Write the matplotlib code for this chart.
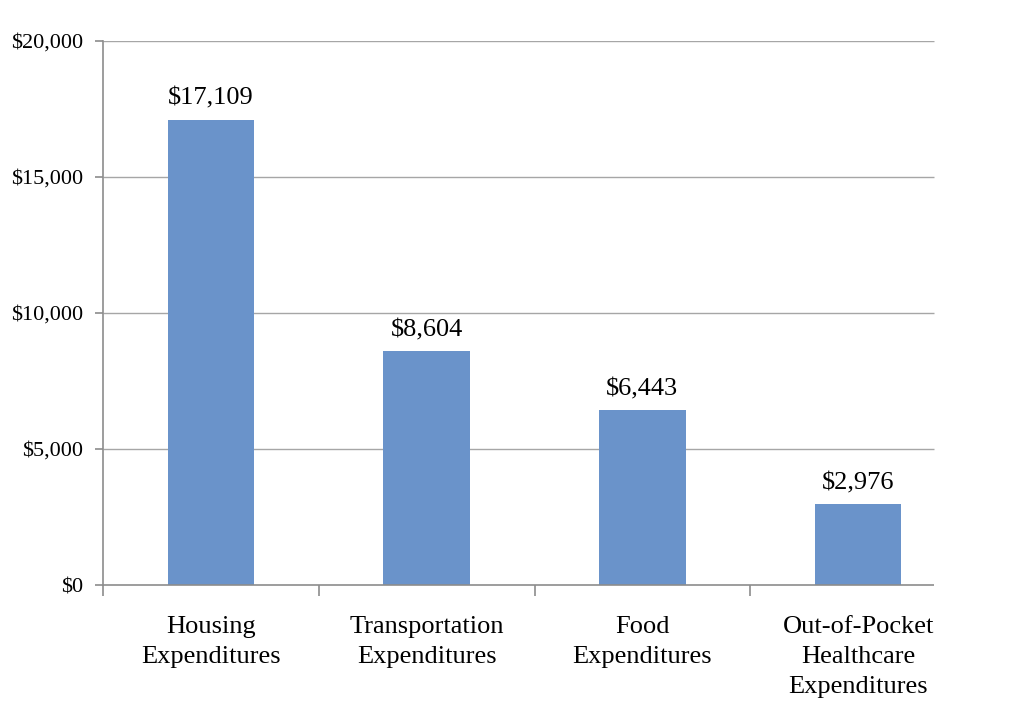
import matplotlib.pyplot as plt
import numpy as np

# data
categories = ['Housing\nExpenditures', 'Transportation\nExpenditures',
              'Food\nExpenditures', 'Out-of-Pocket\nHealthcare\nExpenditures']
values = [17109, 8604, 6443, 2976]
yticks = [0, 5000, 10000, 15000, 20000]

plt.rcParams['font.family'] = ['Liberation Serif', 'DejaVu Serif']

fig = plt.figure(figsize=(10.31, 7.17), dpi=100)
ax = fig.add_axes([103/1031, 1-585/717, (966-103)/1031, (585-41)/717])

x = np.arange(len(categories))
bars = ax.bar(x, values, width=0.4, color='#6A93CA', zorder=3)

ax.set_xlim(-0.5, len(categories)-0.5)
ax.set_ylim(0, 20000)

# gridlines stop short of the right edge, as in the original
x_end = -0.5 + (934-103)/((966-103)/4)
ax.hlines(yticks[1:], -0.5, x_end, color='#A6A6A6', lw=1, zorder=1)
ax.hlines(0, -0.5, x_end, color='#8C8C8C', lw=1.2, zorder=4, clip_on=False)

for s in ['top', 'right', 'bottom']:
	ax.spines[s].set_visible(False)
ax.spines['left'].set_color('#8C8C8C')
ax.spines['left'].set_linewidth(1.2)
ax.spines['left'].set_bounds(0, 20000)

ax.set_yticks(yticks)
ax.set_yticklabels(['${:,}'.format(v) for v in yticks], fontsize=16)
ax.tick_params(axis='y', length=6, color='#8C8C8C', width=1.2, pad=8)

ax.set_xticks(x)
ax.set_xticklabels(categories, fontsize=19, linespacing=1.47)
ax.set_xticks(np.arange(-0.5, len(categories)-0.5, 1), minor=True)
ax.tick_params(axis='x', which='major', length=0, pad=22)
ax.tick_params(axis='x', which='minor', length=8, color='#8C8C8C', width=1.2)

for b, v in zip(bars, values):
	ax.annotate('${:,}'.format(v), (b.get_x()+b.get_width()/2, v),
		xytext=(0, 7), textcoords='offset points', ha='center', va='bottom', fontsize=19)

fig.savefig('out.png', dpi=100)
